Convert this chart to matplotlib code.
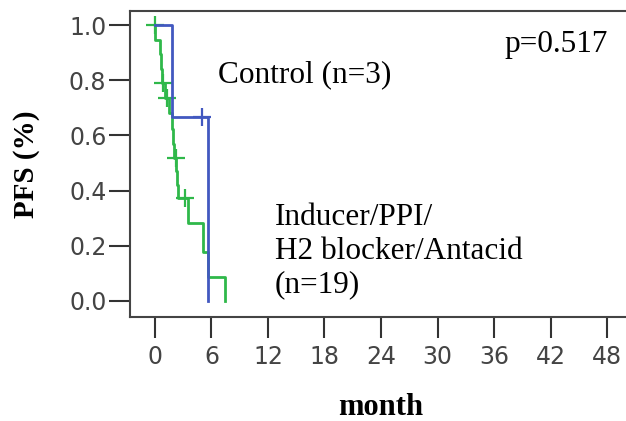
import numpy as np
import matplotlib
matplotlib.use("Agg")
import matplotlib.pyplot as plt

# Kaplan-Meier steps (months, survival after the step)
ctrl_t = [0.0, 1.8, 5.6]
ctrl_s = [1.0, 0.667, 0.0]
ctrl_cens_t = [5.0]
ctrl_cens_s = [0.667]

ind_t = [0.0, 0.05, 0.5, 0.65, 0.8, 1.1, 1.5, 1.8, 1.9, 2.0, 2.25, 2.35, 2.45, 3.5, 5.1, 5.6, 7.4]
ind_s = [1.0, 0.947, 0.895, 0.842, 0.789, 0.735, 0.68, 0.625, 0.57, 0.52, 0.47, 0.42, 0.375,
         0.283, 0.178, 0.087, 0.0]
ind_cens_t = [0.0, 0.9, 1.3, 2.2, 3.2]
ind_cens_s = [1.0, 0.789, 0.735, 0.52, 0.375]

xticks = [0, 6, 12, 18, 24, 30, 36, 42, 48]
yticks = [0.0, 0.2, 0.4, 0.6, 0.8, 1.0]

blue = "#4258c0"
green = "#2fb84a"
serif = "Liberation Serif"

fig = plt.figure(figsize=(6.26, 4.21), dpi=100)
ax = fig.add_axes([130 / 626, 104 / 421, 510 / 626, 306 / 421])

ax.step(ind_t, ind_s, where="post", color=green, lw=2)
ax.plot(ind_cens_t, ind_cens_s, ls="none", marker="+", ms=13, mew=1.6, color=green)
ax.step(ctrl_t, ctrl_s, where="post", color=blue, lw=2)
ax.plot(ctrl_cens_t, ctrl_cens_s, ls="none", marker="+", ms=13, mew=1.6, color=blue)

ax.set_xlim(-2.65, 51.5)
ax.set_ylim(-0.058, 1.051)
ax.set_xticks(xticks)
ax.set_yticks(yticks)
ax.set_yticklabels([f"{v:.1f}" for v in yticks])
ax.tick_params(length=15, width=1.5, color="#333333", labelsize=17, labelcolor="#444444", pad=2)
ax.tick_params(axis="x", pad=5)
for sp in ax.spines.values():
    sp.set_color("#444444")
    sp.set_linewidth(1.5)

ax.set_ylabel("PFS (%)", family=serif, weight="bold", fontsize=21)
ax.set_xlabel("month", family=serif, weight="bold", fontsize=22)
ax.yaxis.set_label_coords(-0.202, 0.5)
ax.xaxis.set_label_coords(0.492, -0.297)
ax.xaxis.label.set_va("center")
ax.yaxis.label.set_va("center")

ax.text(6.7, 0.819, "Control (n=3)", family=serif, fontsize=22.5, va="center", ha="left")
ax.text(37.1, 0.928, "p=0.517", family=serif, fontsize=22.5, va="center", ha="left")
ax.text(12.7, 0.181, "Inducer/PPI/\nH2 blocker/Antacid\n(n=19)", family=serif, fontsize=22.5,
        va="center", ha="left", linespacing=1.2)

fig.savefig("out.png", dpi=100)
